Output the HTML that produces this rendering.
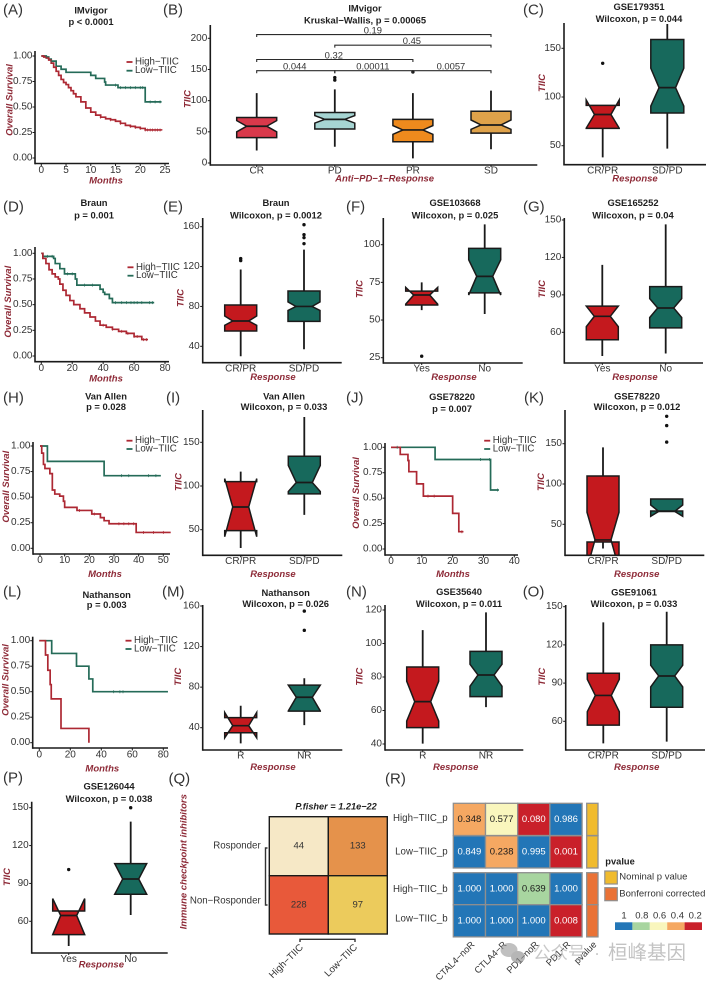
<!DOCTYPE html>
<html lang="en">
<head>
<meta charset="utf-8">
<title>TIIC response and survival panels</title>
<style>
html,body{margin:0;padding:0;background:#fff;}
svg{display:block;filter:blur(0.35px);}
text{font-family:"Liberation Sans","Noto Sans CJK SC",sans-serif;}
</style>
</head>
<body>
<svg id="figure" xmlns="http://www.w3.org/2000/svg" width="709" height="982" viewBox="0 0 709 982">
<rect x="0" y="0" width="709" height="982" fill="#ffffff"/>
<defs id="clip-defs"></defs>
</svg>
<script>
/* ---------- Kaplan-Meier data ---------- */
const kmYTicks = [0, 0.25, 0.5, 0.75, 1];

const kmAXTicks = [0, 5, 10, 15, 20, 25];
const kmAHighTime = [0, 0.5, 1, 1.5, 2, 2.5, 3, 3.5, 4, 4.5, 5, 5.5, 6, 6.5, 7, 8, 9, 10, 11, 12, 13, 14, 15, 16, 17, 18, 19, 20, 21, 24.3];
const kmAHighSurv = [1, 0.99, 0.98, 0.96, 0.93, 0.89, 0.85, 0.81, 0.77, 0.74, 0.72, 0.69, 0.66, 0.63, 0.6, 0.55, 0.49, 0.45, 0.42, 0.4, 0.385, 0.375, 0.36, 0.34, 0.32, 0.31, 0.3, 0.29, 0.275, 0.27];
const kmALowTime = [0, 1, 1.5, 2, 3, 4, 5, 9.5, 10, 11, 12.8, 13, 15.5, 20.8, 21, 24.3];
const kmALowSurv = [1, 0.99, 0.97, 0.95, 0.9, 0.87, 0.84, 0.84, 0.81, 0.78, 0.745, 0.715, 0.69, 0.69, 0.55, 0.55];
const kmAHighCensor = [12, 14, 16, 18, 19, 20, 21, 21.5, 22, 22.5, 23, 23.5, 24];
const kmALowCensor = [1, 2, 15, 16, 17, 18, 19, 20, 20.5, 22, 23, 24];

const kmDXTicks = [0, 20, 40, 60, 80];
const kmDHighTime = [0, 1, 3, 5, 7, 9, 11, 12, 14, 16, 18.5, 21, 25, 28, 31.5, 35, 38, 42, 46, 50, 55, 60, 64, 65, 69];
const kmDHighSurv = [1, 0.95, 0.9, 0.84, 0.8, 0.77, 0.75, 0.7, 0.64, 0.59, 0.54, 0.5, 0.46, 0.42, 0.38, 0.34, 0.3, 0.28, 0.26, 0.24, 0.22, 0.19, 0.19, 0.16, 0.16];
const kmDLowTime = [0, 1, 6, 8, 9, 12, 15, 21, 22, 23, 36, 38, 40, 41, 44, 46, 73];
const kmDLowSurv = [1, 0.97, 0.97, 0.95, 0.9, 0.85, 0.8, 0.8, 0.75, 0.69, 0.69, 0.65, 0.62, 0.6, 0.56, 0.52, 0.52];
const kmDHighCensor = [40, 46, 52, 56, 60, 62, 66, 68];
const kmDLowCensor = [4, 7, 17, 20, 28, 33, 48, 52, 55, 58, 60, 62, 65, 70, 72];

const kmHXTicks = [0, 10, 20, 30, 40, 50];
const kmHHighTime = [0, 0.7, 1.4, 2, 4, 5, 6, 8, 9.5, 10, 15, 21, 24.5, 26, 28, 39, 53];
const kmHHighSurv = [1, 0.93, 0.82, 0.78, 0.73, 0.57, 0.53, 0.51, 0.46, 0.4, 0.37, 0.335, 0.3, 0.27, 0.24, 0.155, 0.155];
const kmHLowTime = [0, 3, 26, 49];
const kmHLowSurv = [1, 0.85, 0.71, 0.71];
const kmHHighCensor = [16, 22, 32, 34, 36, 38, 42, 46, 50];
const kmHLowCensor = [33, 36, 44, 47];

const kmJXTicks = [0, 10, 20, 30, 40];
const kmJHighTime = [0, 3, 5.5, 5.8, 8.3, 10.5, 20, 22, 23.5];
const kmJHighSurv = [1, 0.93, 0.87, 0.76, 0.64, 0.52, 0.35, 0.17, 0.17];
const kmJLowTime = [0, 14.3, 32.3, 35];
const kmJLowSurv = [1, 0.88, 0.58, 0.58];
const kmJHighCensor = [12, 14, 23];
const kmJLowCensor = [2, 29, 32, 34.5];

const kmLXTicks = [0, 20, 40, 60, 80];
const kmLHighTime = [0, 4, 5.5, 7, 7.7, 14, 32];
const kmLHighSurv = [1, 0.86, 0.71, 0.57, 0.43, 0.14, 0];
const kmLLowTime = [0, 8, 24, 32, 34.5, 83];
const kmLLowSurv = [1, 0.875, 0.75, 0.625, 0.5, 0.5];
const kmLHighCensor = [];
const kmLLowCensor = [48, 52, 54];

/* ---------- Box plot data ---------- */
const boxBCategories = ['CR', 'PD', 'PR', 'SD'];
const boxBTicks = [0, 50, 100, 150, 200];
const boxBQ1 = [40.6, 54.5, 34, 48];
const boxBMedian = [59, 70, 53, 61];
const boxBQ3 = [73, 81, 70, 83];
const boxBNotchLow = [50, 64, 46, 54];
const boxBNotchHigh = [68, 76, 60, 69];
const boxBWhiskLow = [20, 26, 7.5, 22];
const boxBWhiskHigh = [112, 118, 112, 116];
const boxBOutliers = [[], [137, 133], [146], []];
const bracketPairs = [[0, 3], [1, 3], [0, 2], [0, 1], [1, 2], [2, 3]];
const bracketValues = [206, 189, 166, 148, 148, 148];
const bracketLabels = ['0.19', '0.45', '0.32', '0.044', '0.00011', '0.0057'];

const boxCCategories = ['CR/PR', 'SD/PD'];
const boxCTicks = [50, 100, 150];
const boxCQ1 = [67.8, 83.6];
const boxCMedian = [82, 109.6];
const boxCQ3 = [91.4, 159];
const boxCNotchLow = [68, 90.7];
const boxCNotchHigh = [97, 129.5];
const boxCWhiskLow = [38, 47];
const boxCWhiskHigh = [91, 175];
const boxCOutliers = [[134.6], []];

const boxECategories = ['CR/PR', 'SD/PD'];
const boxETicks = [40, 80, 120, 160];
const boxEQ1 = [55.4, 65];
const boxEMedian = [65.4, 80];
const boxEQ3 = [81.5, 95.5];
const boxENotchLow = [61, 76];
const boxENotchHigh = [70.4, 84.5];
const boxEWhiskLow = [30, 37];
const boxEWhiskHigh = [117, 137];
const boxEOutliers = [[128, 126], [162, 152, 149, 143]];

const boxFCategories = ['Yes', 'No'];
const boxFTicks = [25, 50, 75, 100];
const boxFQ1 = [60, 68];
const boxFMedian = [66.6, 79];
const boxFQ3 = [69.2, 97.6];
const boxFNotchLow = [60.5, 66.6];
const boxFNotchHigh = [71.7, 90];
const boxFWhiskLow = [56.6, 54];
const boxFWhiskHigh = [75, 113.5];
const boxFOutliers = [[26], []];

const boxGCategories = ['Yes', 'No'];
const boxGTicks = [60, 90, 120, 150];
const boxGQ1 = [54, 63.5];
const boxGMedian = [72.8, 79.5];
const boxGQ3 = [81, 96.6];
const boxGNotchLow = [64.5, 71.8];
const boxGNotchHigh = [81, 87];
const boxGWhiskLow = [41, 43];
const boxGWhiskHigh = [114, 146.5];
const boxGOutliers = [[], []];

const boxICategories = ['CR/PR', 'SD/PD'];
const boxITicks = [50, 100, 150];
const boxIQ1 = [49, 91];
const boxIMedian = [76, 104];
const boxIQ3 = [105, 134];
const boxINotchLow = [42, 93.7];
const boxINotchHigh = [108.5, 123.5];
const boxIWhiskLow = [29, 67];
const boxIWhiskHigh = [116.5, 179];
const boxIOutliers = [[], []];

const boxKCategories = ['CR/PR', 'SD/PD'];
const boxKTicks = [50, 100, 150];
const boxKQ1 = [28, 66.5];
const boxKMedian = [30.6, 66];
const boxKQ3 = [110, 81.4];
const boxKNotchLow = [-5, 60];
const boxKNotchHigh = [65, 74];
const boxKWhiskLow = [20, 66];
const boxKWhiskHigh = [145.5, 81.4];
const boxKOutliers = [[], [184, 172.5, 152]];

const boxMCategories = ['R', 'NR'];
const boxMTicks = [40, 80, 120, 160];
const boxMQ1 = [35, 56.4];
const boxMMedian = [42, 70];
const boxMQ3 = [49.9, 82];
const boxMNotchLow = [30, 56.5];
const boxMNotchHigh = [55, 82];
const boxMWhiskLow = [24.5, 42.6];
const boxMWhiskHigh = [61.7, 88.7];
const boxMOutliers = [[], [155, 136]];

const boxNCategories = ['R', 'NR'];
const boxNTicks = [40, 60, 80, 100, 120];
const boxNQ1 = [49.8, 68.3];
const boxNMedian = [65.3, 81.2];
const boxNQ3 = [86, 95.3];
const boxNNotchLow = [53.7, 74.5];
const boxNNotchHigh = [77.5, 87.6];
const boxNWhiskLow = [40.2, 62];
const boxNWhiskHigh = [108, 118.6];
const boxNOutliers = [[], []];

const boxOCategories = ['CR/PR', 'SD/PD'];
const boxOTicks = [60, 90, 120, 150];
const boxOQ1 = [57, 71];
const boxOMedian = [80.3, 95.6];
const boxOQ3 = [97.7, 120];
const boxONotchLow = [67.6, 87];
const boxONotchHigh = [93, 104];
const boxOWhiskLow = [42.7, 44];
const boxOWhiskHigh = [137.7, 146];
const boxOOutliers = [[], []];

const boxPCategories = ['Yes', 'No'];
const boxPTicks = [60, 90, 120, 150];
const boxPQ1 = [49.4, 81.4];
const boxPMedian = [64.6, 93.5];
const boxPQ3 = [68.2, 105.7];
const boxPNotchLow = [49.4, 81.4];
const boxPNotchHigh = [78, 105.7];
const boxPWhiskLow = [40.4, 65];
const boxPWhiskHigh = [68.2, 139];
const boxPOutliers = [[101], [150]];

/* ---------- Heatmap data ---------- */
const qRowLabels = ['Rosponder', 'Non\u2212Rosponder'];
const qColLabels = ['High\u2212TIIC', 'Low\u2212TIIC'];
const qCounts = [[44, 133], [228, 97]];

const rRowLabels = ['High\u2212TIIC_p', 'Low\u2212TIIC_p', 'High\u2212TIIC_b', 'Low\u2212TIIC_b'];
const rColLabels = ['CTAL4\u2212noR', 'CTLA4\u2212R', 'PD1\u2212noR', 'PD1\u2212R'];
const rValues = [
  [0.348, 0.577, 0.080, 0.986],
  [0.849, 0.238, 0.995, 0.001],
  [1.000, 1.000, 0.639, 1.000],
  [1.000, 1.000, 1.000, 0.008]
];
const rAnnotation = ['Nominal p value', 'Nominal p value', 'Bonferroni corrected', 'Bonferroni corrected'];
const rColorbarTicks = ['1', '0.8', '0.6', '0.4', '0.2'];

/* ---------- Palette and helpers ---------- */
const RED = '#c4191e', GREEN = '#17695c', KM_RED = '#ad2833', KM_GREEN = '#256b58';
const TITLE_RED = '#8e2b38', INK = '#1a1a1a', TICK = '#333333';
const svg = document.getElementById('figure');
const NS = 'http://www.w3.org/2000/svg';

function add(tag, attrs, parent) {
  const el = document.createElementNS(NS, tag);
  for (const k in attrs) el.setAttribute(k, attrs[k]);
  (parent || svg).appendChild(el);
  return el;
}
function addText(str, x, y, size, anchor, fill, weight, style, parent, rot) {
  const el = add('text', {x: x, y: y, 'font-size': size, 'text-anchor': anchor, fill: fill, 'dominant-baseline': 'central'}, parent);
  if (weight) el.setAttribute('font-weight', weight);
  if (style) el.setAttribute('font-style', style);
  if (rot) el.setAttribute('transform', 'rotate(' + rot + ' ' + x + ' ' + y + ')');
  el.textContent = str;
  return el;
}
function linear(d0, p0, d1, p1) {
  return function (v) { return p0 + (v - d0) * (p1 - p0) / (d1 - d0); };
}
function panelLabel(str, x, y) {
  const el = addText(str, x, y, 15, 'start', '#333333');
  
  
}
function drawAxes(id, f, g) {
  const yAxis = add('line', {x1: f.l, x2: f.l, y1: f.t, y2: f.b + 0.8, stroke: INK, 'stroke-width': 1.6}, g);
  
  
  const xAxis = add('line', {x1: f.l, x2: f.r, y1: f.b, y2: f.b, stroke: INK, 'stroke-width': 1.6}, g);
  
  
}
function drawTitles(id, c, g) {
  c.titles.forEach(function (t, i) {
    const el = addText(t, c.titleX, c.titleY[i], 9.4, 'middle', '#1f1f1f', 'bold', null, g);
    
    
  });
  const xt = addText(c.xTitle, c.xTitlePos[0], c.xTitlePos[1], 9.5, 'middle', TITLE_RED, 'bold', 'italic', g);
  
  
  const yt = addText(c.yTitle, c.yTitlePos[0], c.yTitlePos[1], 9.5, 'middle', TITLE_RED, 'bold', 'italic', g, -90);
  
  
}

/* ---------- Kaplan-Meier panels ---------- */
function stepPath(times, surv, X, Y) {
  let d = 'M' + X(times[0]) + ' ' + Y(surv[0]);
  for (let i = 1; i < times.length; i++) d += 'H' + X(times[i]) + 'V' + Y(surv[i]);
  return d;
}
function survAt(times, surv, t) {
  let s = surv[0];
  for (let i = 0; i < times.length; i++) if (times[i] <= t) s = surv[i];
  return s;
}
function drawKM(c) {
  const id = c.id, f = c.f;
  const g = add('g', {});
  
  
  const X = linear(c.xa[0], c.xa[1], c.xa[2], c.xa[3]);
  const Y = linear(0, c.ya[0], 1, c.ya[1]);
  drawAxes(id, f, g);
  c.yTicks.forEach(function (v) {
    const t = add('line', {x1: f.l - 2.5, x2: f.l, y1: Y(v), y2: Y(v), stroke: INK, 'stroke-width': 1}, g);
    
    
    const l = addText(v.toFixed(2), f.l - 2.5, Y(v), 10, 'end', TICK, null, null, g);
    
    
  });
  c.xTicks.forEach(function (v) {
    const t = add('line', {x1: X(v), x2: X(v), y1: f.b, y2: f.b + 2.5, stroke: INK, 'stroke-width': 1}, g);
    
    
    const l = addText(String(v), X(v), c.xLabelY, 10, 'middle', TICK, null, null, g);
    
    
  });
  const low = add('path', {d: stepPath(c.lowT, c.lowS, X, Y), fill: 'none', stroke: KM_GREEN, 'stroke-width': 1.7}, g);
  
  
  const high = add('path', {d: stepPath(c.highT, c.highS, X, Y), fill: 'none', stroke: KM_RED, 'stroke-width': 1.7}, g);
  
  
  c.lowC.forEach(function (t) {
    const y = Y(survAt(c.lowT, c.lowS, t));
    const m = add('line', {x1: X(t), x2: X(t), y1: y - 1.5, y2: y + 1.5, stroke: KM_GREEN, 'stroke-width': 0.7}, g);
    
    
  });
  c.highC.forEach(function (t) {
    const y = Y(survAt(c.highT, c.highS, t));
    const m = add('line', {x1: X(t), x2: X(t), y1: y - 1.5, y2: y + 1.5, stroke: KM_RED, 'stroke-width': 0.7}, g);
    
    
  });
  const names = ['High\u2212TIIC', 'Low\u2212TIIC'];
  names.forEach(function (n, i) {
    const color = i === 0 ? KM_RED : KM_GREEN;
    const key = add('line', {x1: c.legend[0] - 8.5, x2: c.legend[0] - 2.5, y1: c.legend[1 + i], y2: c.legend[1 + i], stroke: color, 'stroke-width': 1.8}, g);
    
    
    const t = addText(n, c.legend[0], c.legend[1 + i], 9.7, 'start', '#333333', null, null, g);
    
    
  });
  drawTitles(id, c, g);
}

/* ---------- Box plot panels ---------- */
let clipCount = 0;
function drawBox(c) {
  const id = c.id, f = c.f;
  const g = add('g', {});
  
  
  const Y = linear(c.ya[0], c.ya[1], c.ya[2], c.ya[3]);
  const n = c.categories.length;
  const X = function (i) { return c.cx[0] + i * (c.cx[1] - c.cx[0]) / (n - 1); };
  clipCount++;
  const clipId = 'plot-clip-' + clipCount;
  const cp = add('clipPath', {id: clipId}, document.getElementById('clip-defs'));
  add('rect', {x: f.l - 1, y: f.t - 14, width: f.r - f.l + 2, height: f.b - f.t + 14}, cp);
  c.ticks.forEach(function (v) {
    const t = add('line', {x1: f.l - 2.5, x2: f.l, y1: Y(v), y2: Y(v), stroke: INK, 'stroke-width': 1}, g);
    
    
    const l = addText(String(v), f.l - 3, Y(v), 10, 'end', TICK, null, null, g);
    
    
  });
  const plot = add('g', {'clip-path': 'url(#' + clipId + ')'}, g);
  
  
  c.categories.forEach(function (cat, i) {
    const x = X(i), hw = c.hw, nw = hw * 0.5;
    const whisk = add('line', {x1: x, x2: x, y1: Y(c.whiskLow[i]), y2: Y(c.whiskHigh[i]), stroke: INK, 'stroke-width': 1.8}, plot);
    
    
    const pts = [
      [x - hw, Y(c.q3[i])], [x + hw, Y(c.q3[i])], [x + hw, Y(c.notchHigh[i])], [x + nw, Y(c.median[i])],
      [x + hw, Y(c.notchLow[i])], [x + hw, Y(c.q1[i])], [x - hw, Y(c.q1[i])], [x - hw, Y(c.notchLow[i])],
      [x - nw, Y(c.median[i])], [x - hw, Y(c.notchHigh[i])]
    ];
    const box = add('polygon', {points: pts.map(function (p) { return p[0] + ',' + p[1]; }).join(' '), fill: c.colors[i], stroke: INK, 'stroke-width': 1.5, 'stroke-linejoin': 'miter'}, plot);
    
    
    const med = add('line', {x1: x - nw, x2: x + nw, y1: Y(c.median[i]), y2: Y(c.median[i]), stroke: INK, 'stroke-width': 1.7}, plot);
    
    
    c.outliers[i].forEach(function (v) {
      const o = add('circle', {cx: x, cy: Y(v), r: 1.7, fill: '#111111'}, plot);
      
      
    });
    const t = add('line', {x1: x, x2: x, y1: f.b, y2: f.b + 2, stroke: INK, 'stroke-width': 1}, g);
    
    
    const l = addText(cat, x, c.xLabelY, 10, 'middle', TICK, null, null, g);
    
    
  });
  drawAxes(id, f, g);
  drawTitles(id, c, g);
  return {X: X, Y: Y, g: g};
}

/* ---------- Panel layouts ---------- */
const kmPanels = [
  {id: 'a', f: {l: 35, b: 163.5, t: 51, r: 169}, xa: [0, 41.3, 25, 165], ya: [158, 56], yTicks: kmYTicks, xTicks: kmAXTicks, xLabelY: 170.3,
   highT: kmAHighTime, highS: kmAHighSurv, lowT: kmALowTime, lowS: kmALowSurv, highC: kmAHighCensor, lowC: kmALowCensor,
   legend: [135, 62, 70.7], titles: ['IMvigor', 'p < 0.0001'], titleX: 91, titleY: [10, 21.7], xTitle: 'Months', xTitlePos: [106, 181], yTitle: 'Overall Survival', yTitlePos: [10, 100]},
  {id: 'd', f: {l: 35, b: 361.7, t: 247, r: 169}, xa: [0, 41.3, 80, 165], ya: [356, 253.3], yTicks: kmYTicks, xTicks: kmDXTicks, xLabelY: 368.3,
   highT: kmDHighTime, highS: kmDHighSurv, lowT: kmDLowTime, lowS: kmDLowSurv, highC: kmDHighCensor, lowC: kmDLowCensor,
   legend: [136, 267.3, 275.7], titles: ['Braun', 'p = 0.001'], titleX: 94, titleY: [202.7, 215], xTitle: 'Months', xTitlePos: [106, 379], yTitle: 'Overall Survival', yTitlePos: [8.3, 301.7]},
  {id: 'h', f: {l: 33, b: 554, t: 442, r: 170}, xa: [0, 40, 50, 163.3], ya: [548.3, 446], yTicks: kmYTicks, xTicks: kmHXTicks, xLabelY: 560.7,
   highT: kmHHighTime, highS: kmHHighSurv, lowT: kmHLowTime, lowS: kmHLowSurv, highC: kmHHighCensor, lowC: kmHLowCensor,
   legend: [135, 440.7, 449], titles: ['Van Allen', 'p = 0.028'], titleX: 106, titleY: [396, 406.6], xTitle: 'Months', xTitlePos: [105, 574.3], yTitle: 'Overall Survival', yTitlePos: [6.7, 486.7]},
  {id: 'j', f: {l: 385, b: 555, t: 443, r: 518}, xa: [0, 391, 40, 514.3], ya: [549, 447.3], yTicks: kmYTicks, xTicks: kmJXTicks, xLabelY: 561.7,
   highT: kmJHighTime, highS: kmJHighSurv, lowT: kmJLowTime, lowS: kmJLowSurv, highC: kmJHighCensor, lowC: kmJLowCensor,
   legend: [492.7, 440.7, 449], titles: ['GSE78220', 'p = 0.007'], titleX: 452, titleY: [396.3, 408.7], xTitle: 'Months', xTitlePos: [453, 574.3], yTitle: 'Overall Survival', yTitlePos: [356.5, 493]},
  {id: 'l', f: {l: 32.7, b: 748, t: 636.7, r: 168}, xa: [0, 39.3, 80, 163.3], ya: [742.7, 640.7], yTicks: kmYTicks, xTicks: kmLXTicks, xLabelY: 755,
   highT: kmLHighTime, highS: kmLHighSurv, lowT: kmLLowTime, lowS: kmLLowSurv, highC: kmLHighCensor, lowC: kmLLowCensor,
   legend: [134, 640.7, 649], titles: ['Nathanson', 'p = 0.003'], titleX: 106.7, titleY: [594.3, 604.3], xTitle: 'Months', xTitlePos: [102.3, 769], yTitle: 'Overall Survival', yTitlePos: [6, 680]}
];
kmPanels.forEach(drawKM);

const twoColors = [RED, GREEN];
const resp = 'Response';
const boxPanelB = drawBox({id: 'b', f: {l: 210.3, b: 165, t: 25, r: 537.3}, ya: [0, 163, 200, 38.3], cx: [256.7, 491], hw: 20, colors: ['#d9394b', '#a6d5d3', '#ee8a1d', '#dfa24a'],
  categories: boxBCategories, ticks: boxBTicks, q1: boxBQ1, median: boxBMedian, q3: boxBQ3, notchLow: boxBNotchLow, notchHigh: boxBNotchHigh, whiskLow: boxBWhiskLow, whiskHigh: boxBWhiskHigh, outliers: boxBOutliers,
  xLabelY: 171, titles: ['IMvigor', 'Kruskal\u2212Wallis, p = 0.00065'], titleX: 365, titleY: [8, 20], xTitle: 'Anti\u2212PD\u22121\u2212Response', xTitlePos: [384.6, 179], yTitle: 'TIIC', yTitlePos: [188, 99]});

bracketPairs.forEach(function (pair, i) {
  const x1 = boxPanelB.X(pair[0]), x2 = boxPanelB.X(pair[1]), y = boxPanelB.Y(bracketValues[i]);
  const b = add('path', {d: 'M' + x1 + ' ' + (y + 2.5) + 'V' + y + 'H' + x2 + 'V' + (y + 2.5), fill: 'none', stroke: '#2b2b2b', 'stroke-width': 1.1}, boxPanelB.g);
  
  
  const t = addText(bracketLabels[i], (x1 + x2) / 2 - 1, y - 4.7, 9.4, 'middle', '#333333', null, null, boxPanelB.g);
  
  
});

const boxPanels = [
  {id: 'c', f: {l: 564, b: 164.7, t: 23, r: 706}, ya: [50, 145.7, 150, 48.3], cx: [602.7, 667.3], hw: 16.5,
   categories: boxCCategories, ticks: boxCTicks, q1: boxCQ1, median: boxCMedian, q3: boxCQ3, notchLow: boxCNotchLow, notchHigh: boxCNotchHigh, whiskLow: boxCWhiskLow, whiskHigh: boxCWhiskHigh, outliers: boxCOutliers,
   xLabelY: 171, titles: ['GSE179351', 'Wilcoxon, p = 0.044'], titleX: 639, titleY: [6.7, 18.7], xTitlePos: [635, 179], yTitlePos: [542.5, 83]},
  {id: 'e', f: {l: 202.7, b: 362.7, t: 218, r: 341.7}, ya: [40, 346.3, 160, 226.7], cx: [240.7, 304], hw: 16,
   categories: boxECategories, ticks: boxETicks, q1: boxEQ1, median: boxEMedian, q3: boxEQ3, notchLow: boxENotchLow, notchHigh: boxENotchHigh, whiskLow: boxEWhiskLow, whiskHigh: boxEWhiskHigh, outliers: boxEOutliers,
   xLabelY: 369, titles: ['Braun', 'Wilcoxon, p = 0.0012'], titleX: 276, titleY: [202.7, 215], xTitlePos: [273, 377.7], yTitlePos: [181, 298]},
  {id: 'f', f: {l: 383.3, b: 363, t: 218, r: 522.7}, ya: [25, 357.7, 100, 244.7], cx: [421.7, 484.7], hw: 16,
   categories: boxFCategories, ticks: boxFTicks, q1: boxFQ1, median: boxFMedian, q3: boxFQ3, notchLow: boxFNotchLow, notchHigh: boxFNotchHigh, whiskLow: boxFWhiskLow, whiskHigh: boxFWhiskHigh, outliers: boxFOutliers,
   xLabelY: 369, titles: ['GSE103668', 'Wilcoxon, p = 0.025'], titleX: 455, titleY: [202.7, 215], xTitlePos: [454, 377.7], yTitlePos: [360, 289]},
  {id: 'g', f: {l: 564.3, b: 363, t: 218, r: 703}, ya: [60, 332.3, 150, 220], cx: [602.3, 665.7], hw: 16,
   categories: boxGCategories, ticks: boxGTicks, q1: boxGQ1, median: boxGMedian, q3: boxGQ3, notchLow: boxGNotchLow, notchHigh: boxGNotchHigh, whiskLow: boxGWhiskLow, whiskHigh: boxGWhiskHigh, outliers: boxGOutliers,
   xLabelY: 369, titles: ['GSE165252', 'Wilcoxon, p = 0.04'], titleX: 633, titleY: [202.7, 215], xTitlePos: [635, 377.7], yTitlePos: [542.7, 289]},
  {id: 'i', f: {l: 202.7, b: 555.3, t: 410, r: 342.3}, ya: [50, 529.7, 150, 442.3], cx: [240.7, 304.3], hw: 16,
   categories: boxICategories, ticks: boxITicks, q1: boxIQ1, median: boxIMedian, q3: boxIQ3, notchLow: boxINotchLow, notchHigh: boxINotchHigh, whiskLow: boxIWhiskLow, whiskHigh: boxIWhiskHigh, outliers: boxIOutliers,
   xLabelY: 561.7, titles: ['Van Allen', 'Wilcoxon, p = 0.033'], titleX: 284, titleY: [396, 406.3], xTitlePos: [273, 574.3], yTitlePos: [179, 482]},
  {id: 'k', f: {l: 565, b: 555.3, t: 410, r: 704.3}, ya: [50, 524.3, 150, 443.7], cx: [603, 666.7], hw: 16,
   categories: boxKCategories, ticks: boxKTicks, q1: boxKQ1, median: boxKMedian, q3: boxKQ3, notchLow: boxKNotchLow, notchHigh: boxKNotchHigh, whiskLow: boxKWhiskLow, whiskHigh: boxKWhiskHigh, outliers: boxKOutliers,
   xLabelY: 561.7, titles: ['GSE78220', 'Wilcoxon, p = 0.012'], titleX: 637, titleY: [396, 406.3], xTitlePos: [636.7, 574.3], yTitlePos: [541.7, 482]},
  {id: 'm', f: {l: 202.7, b: 750, t: 605, r: 342.3}, ya: [40, 727.7, 160, 606], cx: [240.7, 304.3], hw: 16,
   categories: boxMCategories, ticks: boxMTicks, q1: boxMQ1, median: boxMMedian, q3: boxMQ3, notchLow: boxMNotchLow, notchHigh: boxMNotchHigh, whiskLow: boxMWhiskLow, whiskHigh: boxMWhiskHigh, outliers: boxMOutliers,
   xLabelY: 756, titles: ['Nathanson', 'Wilcoxon, p = 0.026'], titleX: 285.7, titleY: [592.3, 603.7], xTitlePos: [273, 767.3], yTitlePos: [178.3, 676.7]},
  {id: 'n', f: {l: 385, b: 750, t: 605, r: 523.3}, ya: [40, 744, 120, 610], cx: [422.7, 486], hw: 16,
   categories: boxNCategories, ticks: boxNTicks, q1: boxNQ1, median: boxNMedian, q3: boxNQ3, notchLow: boxNNotchLow, notchHigh: boxNNotchHigh, whiskLow: boxNWhiskLow, whiskHigh: boxNWhiskHigh, outliers: boxNOutliers,
   xLabelY: 756, titles: ['GSE35640', 'Wilcoxon, p = 0.011'], titleX: 459, titleY: [591.5, 603.7], xTitlePos: [455.7, 767.3], yTitlePos: [360, 676.7]},
  {id: 'o', f: {l: 565.7, b: 750, t: 605, r: 705}, ya: [60, 721.3, 150, 606.7], cx: [603.3, 666.7], hw: 16,
   categories: boxOCategories, ticks: boxOTicks, q1: boxOQ1, median: boxOMedian, q3: boxOQ3, notchLow: boxONotchLow, notchHigh: boxONotchHigh, whiskLow: boxOWhiskLow, whiskHigh: boxOWhiskHigh, outliers: boxOOutliers,
   xLabelY: 756, titles: ['GSE91061', 'Wilcoxon, p = 0.033'], titleX: 634, titleY: [592, 603.7], xTitlePos: [636.7, 767.3], yTitlePos: [542.7, 676.7]},
  {id: 'p', f: {l: 31.7, b: 953, t: 801.7, r: 167.7}, ya: [60, 921.3, 150, 807.7], cx: [68.7, 130.7], hw: 16,
   categories: boxPCategories, ticks: boxPTicks, q1: boxPQ1, median: boxPMedian, q3: boxPQ3, notchLow: boxPNotchLow, notchHigh: boxPNotchHigh, whiskLow: boxPWhiskLow, whiskHigh: boxPWhiskHigh, outliers: boxPOutliers,
   xLabelY: 959.7, titles: ['GSE126044', 'Wilcoxon, p = 0.038'], titleX: 109, titleY: [786, 798.3], xTitlePos: [101.3, 965], yTitlePos: [7.3, 877]}
];
boxPanels.forEach(function (c) {
  c.colors = twoColors;
  c.xTitle = resp;
  c.yTitle = 'TIIC';
  drawBox(c);
});

/* ---------- Panel Q: contingency heatmap ---------- */
function qColor(v) {
  if (v < 70) return '#f6e8c6';
  if (v < 115) return '#eccb5c';
  if (v < 180) return '#e5924b';
  return '#e8593a';
}
const qGroup = add('g', {});


const qXs = [269.3, 328.3, 387.3], qYs = [816.7, 875.7, 934];
qCounts.forEach(function (row, r) {
  row.forEach(function (v, c) {
    const cell = add('rect', {x: qXs[c], y: qYs[r], width: qXs[c + 1] - qXs[c], height: qYs[r + 1] - qYs[r], fill: qColor(v), stroke: '#1a1a1a', 'stroke-width': 1.4}, qGroup);
    
    
    const t = addText(String(v), (qXs[c] + qXs[c + 1]) / 2, qYs[r] + 29.5, 9.5, 'middle', '#333333', null, null, qGroup);
    
    
  });
});
const qTitle = addText('P.fisher =  1.21e\u221222', 336, 806.7, 9.2, 'middle', '#1f1f1f', 'bold', 'italic', qGroup);


const qRowY = [846, 901], qColX = [302, 356];
qRowLabels.forEach(function (s, i) {
  const t = addText(s, 260.7, qRowY[i], 9.7, 'end', '#333333', null, null, qGroup);
  
  
});
qColLabels.forEach(function (s, i) {
  const t = addText(s, qColX[i], 946, 9.7, 'end', '#333333', null, null, qGroup, -45);
  
  
});
const qRowBracket = add('path', {d: 'M267.5 848H265.5V905H267.5', fill: 'none', stroke: '#333333', 'stroke-width': 1.4}, qGroup);


const qColBracket = add('path', {d: 'M300 942V939.3H355V942', fill: 'none', stroke: '#333333', 'stroke-width': 1.4}, qGroup);


const qYTitle = addText('Immune checkpoint inhibitors', 184, 861.7, 9.5, 'middle', TITLE_RED, 'bold', 'italic', qGroup, -90);



/* ---------- Panel R: p-value heatmap ---------- */
function rColor(v) {
  if (v >= 0.8) return '#2376b7';
  if (v >= 0.6) return '#a8d5a0';
  if (v >= 0.4) return '#f9f6bd';
  if (v >= 0.2) return '#f5a862';
  return '#c9202a';
}
const annColor = {'Nominal p value': '#f0bb2e', 'Bonferroni corrected': '#ea7236'};
const rGroup = add('g', {});


const rColW = 32.2, rRowH = 32.2, rLeft = 453.3;
function rRowY(i) { return i < 2 ? 803.3 + i * 32.5 : 872.7 + (i - 2) * 32; }
rValues.forEach(function (row, r) {
  row.forEach(function (v, c) {
    const x = rLeft + c * rColW, y = rRowY(r), fill = rColor(v);
    const cell = add('rect', {x: x, y: y, width: rColW, height: rRowH, fill: fill, stroke: '#8f8f8f', 'stroke-width': 1.3}, rGroup);
    
    
    const dark = v >= 0.2 && v < 0.8;
    const t = addText(v.toFixed(3), x + rColW / 2, y + rRowH / 2, 9.5, 'middle', dark ? '#1a1a1a' : '#ffffff', null, null, rGroup);
    
    
  });
  const ann = add('rect', {x: 586.7, y: rRowY(r), width: 11.3, height: rRowH, fill: annColor[rAnnotation[r]], stroke: '#8f8f8f', 'stroke-width': 1.3}, rGroup);
  
  
});
const rLabelY = [818.7, 852, 889.3, 919];
rRowLabels.forEach(function (s, i) {
  const t = addText(s, 447.7, rLabelY[i], 9.7, 'end', '#333333', null, null, rGroup);
  
  
});
rColLabels.forEach(function (s, i) {
  const t = addText(s, 473 + i * 32, 943, 9.3, 'end', '#333333', null, null, rGroup, -45);
  
  
});
const rAnnLabel = addText('pvalue', 595, 943, 9.3, 'end', '#333333', null, null, rGroup, -45);



const rLegendTitle = addText('pvalue', 605.3, 861.7, 9.3, 'start', '#1f1f1f', 'bold', null, rGroup);


['Nominal p value', 'Bonferroni corrected'].forEach(function (s, i) {
  const sw = add('rect', {x: 604.8, y: 871 + i * 16.7, width: 12.5, height: 13, fill: annColor[s], stroke: '#8f8f8f', 'stroke-width': 1.2}, rGroup);
  
  
  const t = addText(s, 619.3, 877 + i * 17, 9.5, 'start', '#333333', null, null, rGroup);
  
  
});
const rBarValues = [1, 0.7, 0.5, 0.3, 0.1];
rBarValues.forEach(function (v, i) {
  const seg = add('rect', {x: 615 + i * 17.4, y: 922.3, width: 17.4, height: 7.7, fill: rColor(v)}, rGroup);
  
  
});
rColorbarTicks.forEach(function (s, i) {
  const t = addText(s, 624 + i * 17.8, 916, 9.5, 'middle', '#333333', null, null, rGroup);
  
  
});

/* ---------- Panel letters ---------- */
const panelLetters = ['(A)', '(B)', '(C)', '(D)', '(E)', '(F)', '(G)', '(H)', '(I)', '(J)', '(K)', '(L)', '(M)', '(N)', '(O)', '(P)', '(Q)', '(R)'];
const letterX = [3, 163, 523, 3, 163, 346, 523, 3, 166, 346, 524, 3, 162, 346, 522.7, 3, 168.5, 385];
const letterY = [10, 10, 10, 207, 207, 207, 207, 398, 398, 398, 398, 592, 592, 592, 592, 778, 779, 779];
panelLetters.forEach(function (s, i) { panelLabel(s, letterX[i], letterY[i]); });

/* ---------- Watermark ---------- */
const wm = add('g', {opacity: 0.62});


const wmIconA = add('ellipse', {cx: 509, cy: 950, rx: 8.5, ry: 7, fill: '#9a9a9a'}, wm);


const wmIconB = add('ellipse', {cx: 518, cy: 957, rx: 7, ry: 6, fill: '#8a8a8a'}, wm);


const wmA = addText('公众号', 533, 953, 17.5, 'start', '#a8a8a8', null, null, wm);


const wmDot = addText('·', 597, 953, 17.5, 'middle', '#a8a8a8', null, null, wm);


const wmB = addText('桓峰基因', 608, 953, 19.5, 'start', '#a0a0a0', null, null, wm);


</script>
</body>
</html>
